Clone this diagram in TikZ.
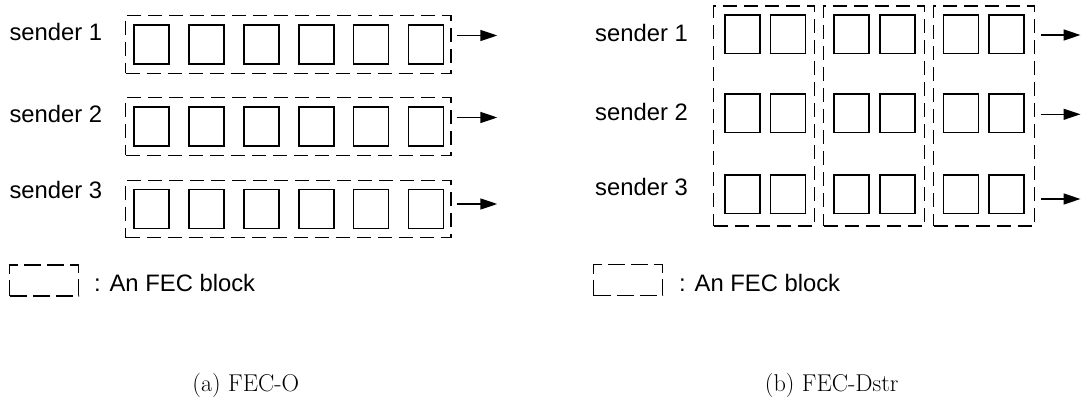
\documentclass[tikz,border=0pt]{standalone}
\usepackage{fontspec}
\newfontfamily\diagfont{Liberation Sans}
\usetikzlibrary{arrows.meta,calc}
\begin{document}
\begin{tikzpicture}[x=1pt,y=-1pt,
  cell/.style={draw, line width=1.7pt, minimum width=35pt, minimum height=39pt, inner sep=0pt},
  fecblock/.style={draw, line width=1.1pt, dash pattern=on 14pt off 7pt, inner sep=0pt},
  keyblock/.style={fecblock, dash pattern=on 17pt off 6pt, minimum width=69pt, minimum height=31pt},
  sendertext/.style={anchor=base west, inner sep=0pt, font=\diagfont\fontsize{23.8}{28}\selectfont},
  captext/.style={anchor=base, inner sep=0pt, font=\fontsize{24.3}{29}\selectfont},
  flow/.style={line width=1.5pt, -{Triangle[length=17pt,width=11pt]}}]
\useasboundingbox (0,0) rectangle (1081,401);

% ---------- (a) FEC-O : one FEC block per sender ----------
\foreach \r/\yc/\yb/\ya in {1/44.5/41/35.5, 2/126.4/122.5/117.5, 3/209/198.3/204} {
  \node[sendertext] (Ls\r) at (9.3,\yb) {sender \r};
  \node[fecblock, minimum width=325.4pt, minimum height=57.8pt] (Lb\r) at (288.3,\yc) {};
  \foreach \i in {0,...,5}
    \node[cell] (Lc\r-\i) at (151.5+54.9*\i,\yc) {};
  \coordinate (La\r) at (497.3,\ya);
  \draw[flow] ($(Lb\r.east |- La\r)+(5,0)$) -- (La\r);
}

% ---------- (b) FEC-Dstr : FEC blocks across senders ----------
\foreach \c in {0,1,2}
  \node[fecblock, minimum width=101pt, minimum height=220pt] (Rb\c) at (764+110.1*\c,116) {};
\foreach \r/\yc/\yb/\ya in {1/34.2/41.7/35, 2/113.3/121/114.3, 3/194.2/195/199} {
  \node[sendertext] (Rs\r) at (595,\yb) {sender \r};
  \foreach \c in {0,1,2} {
    \node[cell, minimum height=38.5pt] (Rc\r-\c a) at (742.5+109.2*\c,\yc) {};
    \node[cell, minimum height=38.5pt] (Rc\r-\c b) at (788+109.2*\c,\yc) {};
  }
  \coordinate (Ra\r) at (1080.5,\ya);
  \draw[flow] ($(Rb2.east |- Ra\r)+(5.5,0)$) -- (Ra\r);
}

% ---------- legends ----------
\node[keyblock] (Lkey) at (44.3,280.5) {};
\node[sendertext] (Lkeytext) at (94,291.7) {: An FEC block};
\node[keyblock] (Rkey) at (628.3,280) {};
\node[sendertext] (Rkeytext) at (679,291.7) {: An FEC block};

% ---------- captions ----------
\node[captext] (capa) at (245.8,391.7) {(a) FEC-O};
\node[captext] (capb) at (831.7,391.7) {(b) FEC-Dstr};
\end{tikzpicture}
\end{document}
